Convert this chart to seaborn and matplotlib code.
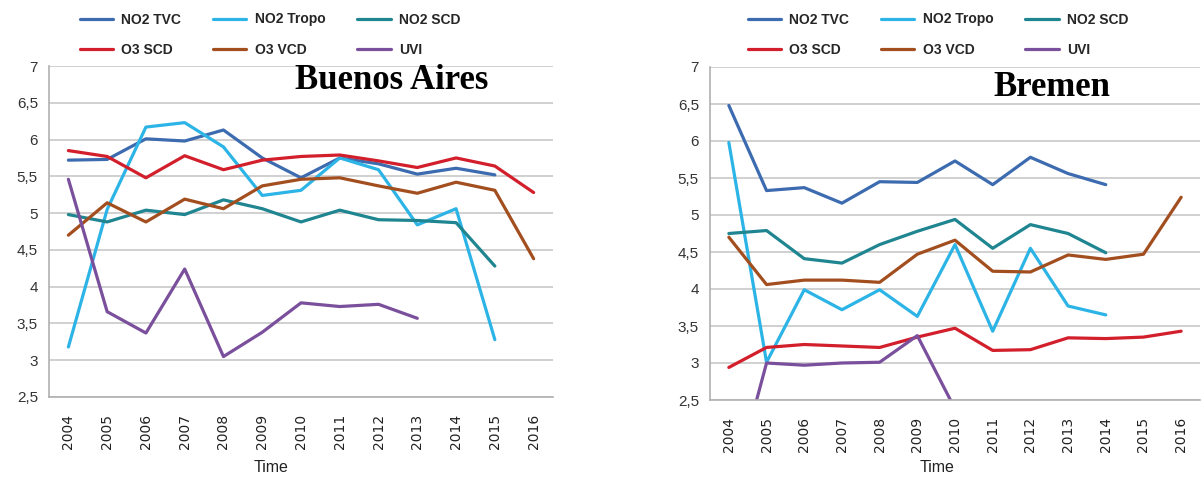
import matplotlib
matplotlib.use("Agg")
import matplotlib.pyplot as plt
import seaborn as sns
import numpy as np
import pandas as pd

# years on the category axis
years = list(range(2004, 2017))
series_names = ["NO2 TVC", "NO2 Tropo", "NO2 SCD", "O3 SCD", "O3 VCD", "UVI"]

# Buenos Aires values (None = no data)
ba_no2_tvc = [5.72, 5.73, 6.01, 5.98, 6.13, 5.75, 5.48, 5.75, 5.67, 5.53, 5.61, 5.52, None]
ba_no2_tropo = [3.18, 5.05, 6.17, 6.23, 5.90, 5.24, 5.31, 5.75, 5.59, 4.84, 5.06, 3.28, None]
ba_no2_scd = [4.98, 4.88, 5.04, 4.98, 5.18, 5.06, 4.88, 5.04, 4.91, 4.90, 4.87, 4.28, None]
ba_o3_scd = [5.85, 5.77, 5.48, 5.78, 5.59, 5.72, 5.77, 5.79, 5.71, 5.62, 5.75, 5.64, 5.28]
ba_o3_vcd = [4.70, 5.14, 4.88, 5.19, 5.06, 5.37, 5.46, 5.48, 5.37, 5.27, 5.42, 5.31, 4.38]
ba_uvi = [5.46, 3.66, 3.37, 4.24, 3.05, 3.38, 3.78, 3.73, 3.76, 3.57, None, None, None]

# Bremen values
br_no2_tvc = [6.48, 5.33, 5.37, 5.16, 5.45, 5.44, 5.73, 5.41, 5.78, 5.56, 5.41, None, None]
br_no2_tropo = [5.98, 3.01, 3.99, 3.72, 3.99, 3.63, 4.60, 3.43, 4.55, 3.77, 3.65, None, None]
br_no2_scd = [4.75, 4.79, 4.41, 4.35, 4.60, 4.78, 4.94, 4.55, 4.87, 4.75, 4.49, None, None]
br_o3_scd = [2.94, 3.21, 3.25, 3.23, 3.21, 3.35, 3.47, 3.17, 3.18, 3.34, 3.33, 3.35, 3.43]
br_o3_vcd = [4.70, 4.06, 4.12, 4.12, 4.09, 4.47, 4.66, 4.24, 4.23, 4.46, 4.40, 4.47, 5.24]
br_uvi = [1.10, 3.00, 2.97, 3.00, 3.01, 3.37, 2.38, None, None, None, None, None, None]

colors = {"NO2 TVC": "#3d6bb0", "NO2 Tropo": "#2db4e6", "NO2 SCD": "#1f8590",
          "O3 SCD": "#d21f2b", "O3 VCD": "#a24e1f", "UVI": "#7a4f9c"}


def to_long(cols):
    rows = []
    for name, vals in zip(series_names, cols):
        for y, v in zip(years, vals):
            if v is not None:
                rows.append({"year": y, "value": v, "series": name})
    return pd.DataFrame(rows)


ba = to_long([ba_no2_tvc, ba_no2_tropo, ba_no2_scd, ba_o3_scd, ba_o3_vcd, ba_uvi])
br = to_long([br_no2_tvc, br_no2_tropo, br_no2_scd, br_o3_scd, br_o3_vcd, br_uvi])

sns.set_style("white")
plt.rcParams["font.family"] = ["Liberation Sans", "DejaVu Sans"]

fig = plt.figure(figsize=(12.03, 4.78), dpi=100)
ax1 = fig.add_axes([49 / 1203, 1 - 397 / 478, 504 / 1203, 331 / 478])
ax2 = fig.add_axes([710 / 1203, 1 - 400 / 478, 490 / 1203, 333 / 478])

# legend order goes column by column
leg_order = ["NO2 TVC", "O3 SCD", "NO2 Tropo", "O3 VCD", "NO2 SCD", "UVI"]

for ax, df, title, tpos, lab_xy, leg_x in [
        (ax1, ba, "Buenos Aires", (0.68, 0.955), (0.44, -0.19), 67),
        (ax2, br, "Bremen", (0.698, 0.937), (0.463, -0.18), 735)]:
    sns.lineplot(data=df, x="year", y="value", hue="series", hue_order=series_names,
                 palette=colors, linewidth=2.3, ax=ax, legend=True, sort=False)
    ax.set_ylim(2.5, 7)
    ax.set_xlim(2003.5, 2016.5)
    ax.set_yticks(np.arange(2.5, 7.01, 0.5))
    ax.set_yticklabels([("%g" % v).replace(".", ",") for v in np.arange(2.5, 7.01, 0.5)],
                       fontsize=11, color="#333333")
    ax.set_xticks(years)
    ax.set_xticklabels([str(y) for y in years], rotation=90, fontsize=10,
                       family="DejaVu Sans", color="#222222")
    ax.set_xticks(np.arange(2003.5, 2016.6, 1), minor=True)
    ax.tick_params(axis="x", which="major", length=0, pad=12)
    ax.tick_params(axis="x", which="minor", length=5, color="#aaaaaa", width=1)
    ax.tick_params(axis="y", length=5, color="#aaaaaa", pad=3)
    ax.yaxis.grid(True, color="#c8c8c8", linewidth=1.2)
    ax.set_axisbelow(True)
    for s in ["top", "right"]:
        ax.spines[s].set_visible(False)
    for s in ["left", "bottom"]:
        ax.spines[s].set_color("#b0b0b0")
        ax.spines[s].set_linewidth(1.2)
    ax.set_ylabel("")
    ax.set_xlabel("Time", fontsize=11.5, color="#222222")
    ax.xaxis.set_label_coords(*lab_xy)
    ax.text(tpos[0], tpos[1], title, transform=ax.transAxes, ha="center", va="center",
            fontsize=25, fontweight="bold", family="Liberation Serif", color="black")

    handles, labels = ax.get_legend_handles_labels()
    hmap = dict(zip(labels, handles))
    ax.legend([hmap[n] for n in leg_order], leg_order, ncol=3, frameon=False,
              loc="upper left", bbox_to_anchor=(leg_x / 1203, 1.0),
              bbox_transform=fig.transFigure, handlelength=2.4,
              handletextpad=0.6, columnspacing=2.3, labelspacing=1.2,
              prop={"weight": "bold", "size": 10})

fig.savefig("out.png", dpi=100)
